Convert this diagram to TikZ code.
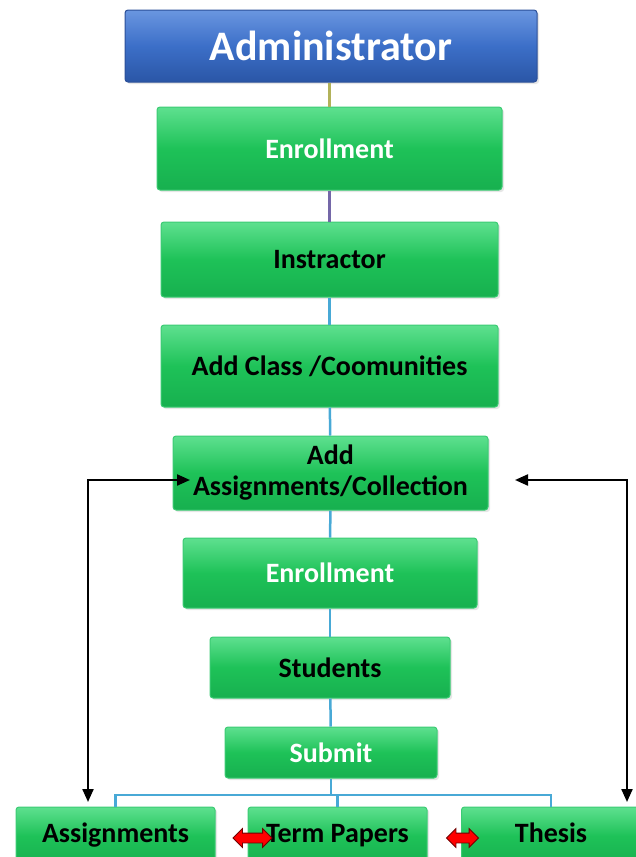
\documentclass[tikz,border=0pt]{standalone}
\usepackage{fontspec}
\setmainfont{Carlito}
\usetikzlibrary{arrows.meta,shapes.arrows,shadows}

\definecolor{greenmid}{HTML}{1EC258}
\definecolor{greentop}{HTML}{5EE08F}
\definecolor{greenbot}{HTML}{17B04F}
\definecolor{greenedge}{HTML}{3CCB74}
\definecolor{bluemid}{HTML}{3C6FC8}
\definecolor{bluetop}{HTML}{6A96E0}
\definecolor{bluebot}{HTML}{2A56A6}
\definecolor{blueedge}{HTML}{2B4F98}
\definecolor{linkolive}{HTML}{B2B25A}
\definecolor{linkpurple}{HTML}{7467A8}
\definecolor{linkblue}{HTML}{48A9D6}

\begin{document}
\begin{tikzpicture}[x=1pt,y=-1pt,
    box/.style={rectangle, rounded corners=3pt, draw=greenedge, line width=1pt,
      top color=greentop, bottom color=greenbot, middle color=greenmid,
      inner sep=0pt, align=center, text=black,
      font=\bfseries\fontsize{28}{31}\selectfont,
      drop shadow={opacity=0.2, shadow xshift=2pt, shadow yshift=-2pt}},
    whitetext/.style={text=white},
    leaf/.style={box, minimum height=58pt, text height=19pt, text depth=7pt},
    headbox/.style={box, draw=blueedge, top color=bluetop, bottom color=bluebot,
      middle color=bluemid, text=white, font=\bfseries\fontsize{42}{46}\selectfont},
    link/.style={line width=2.5pt, draw=linkblue},
    loop/.style={line width=2.2pt, {Triangle[length=13pt,width=11pt]}-{Triangle[length=13pt,width=11pt]}},
    swap/.style={double arrow, draw=red!45!black, fill=red, line width=0.8pt,
      inner xsep=0pt, inner ysep=4.5pt, double arrow head extend=4.5pt}]

  \useasboundingbox (0,0) rectangle (636,857);
  \clip (0,0) rectangle (636,857);

  % main column
  \node[headbox, minimum width=412pt, minimum height=72pt] (admin) at (331,46) {Administrator};
  \node[box, whitetext, minimum width=345pt, minimum height=83pt] (enrolA) at (329.5,148.5) {Enrollment};
  \node[box, minimum width=337pt, minimum height=75pt] (instr) at (329.5,259.5) {Instractor};
  \node[box, minimum width=337pt, minimum height=82pt] (addclass) at (329.5,366) {Add Class /Coomunities};
  \node[box, minimum width=315pt, minimum height=74pt] (addassign) at (330.5,473) {Add\\Assignments/Collection};
  \node[box, whitetext, minimum width=294pt, minimum height=70pt] (enrolB) at (330,573) {Enrollment};
  \node[box, minimum width=240pt, minimum height=61pt] (students) at (330,667.5) {Students};
  \node[box, whitetext, minimum width=212pt, minimum height=51pt] (submit) at (331,752.5) {Submit};

  % bottom row
  \node[leaf, minimum width=199pt] (assign) at (115.5,836) {Assignments};
  \node[leaf, minimum width=179pt] (term) at (337.5,836) {Term Papers};
  \node[leaf, minimum width=179pt] (thesis) at (551,836) {Thesis};

  \draw[link, draw=linkolive] (enrolA.north) -- (enrolA.north |- admin.south);
  \draw[link, draw=linkpurple] (enrolA) -- (instr);
  \draw[link] (instr) -- (addclass);
  \draw[link] (addclass) -- (addassign);
  \draw[link] (addassign) -- (enrolB);
  \draw[link] (enrolB) -- (students);
  \draw[link] (students) -- (submit);

  \coordinate (bus) at (331,795);
  \draw[link] (submit) -- (bus);
  \draw[link] (assign.north) |- (bus) -| (thesis.north);
  \draw[link] (bus) -| (term.north);

  \coordinate (ltip) at (190,480);
  \coordinate (lbot) at (88,802);
  \coordinate (rtip) at (515,480);
  \coordinate (rbot) at (627,802);
  \draw[loop] (ltip) -| (lbot);
  \draw[loop] (rtip) -| (rbot);

  \node[swap, minimum height=39pt] (swapA) at (252.5,838) {};
  \node[swap, minimum height=32pt] (swapB) at (462.5,838) {};
\end{tikzpicture}
\end{document}
